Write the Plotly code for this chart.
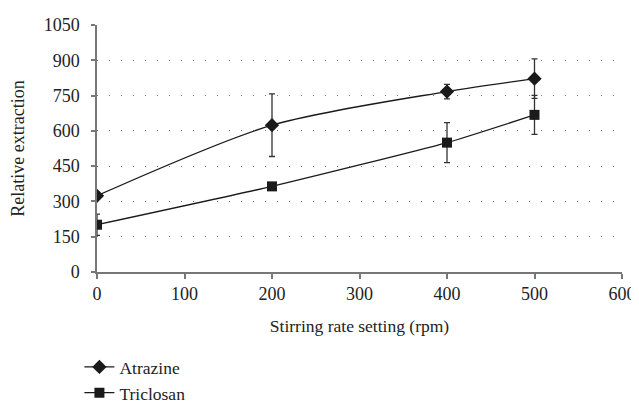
import plotly.graph_objects as go

rpm = [0, 200, 400, 500]
atrazine = [324, 624, 767, 822]
atrazine_err = [15, 133, 31, 84]
triclosan = [201, 364, 550, 668]
triclosan_err = [45, 15, 85, 83]

x_ticks = [0, 100, 200, 300, 400, 500, 600]
y_ticks = [0, 150, 300, 450, 600, 750, 900, 1050]

font = "Liberation Serif"
fig = go.Figure()
fig.add_trace(go.Scatter(
    x=rpm, y=atrazine, name="Atrazine", mode="lines+markers",
    line=dict(color="#1a1a1a", width=1.3, shape="spline", smoothing=0.8),
    marker=dict(symbol="diamond", size=11, color="#1a1a1a"),
    error_y=dict(type="data", array=atrazine_err, visible=True, color="#333333", thickness=1.3, width=3),
))
fig.add_trace(go.Scatter(
    x=rpm, y=triclosan, name="Triclosan", mode="lines+markers",
    line=dict(color="#1a1a1a", width=1.3, shape="spline", smoothing=0.5),
    marker=dict(symbol="square", size=10, color="#1a1a1a"),
    error_y=dict(type="data", array=triclosan_err, visible=True, color="#333333", thickness=1.3, width=3),
))

fig.update_layout(
    width=631, height=395,
    margin=dict(l=89, r=17, t=17, b=131, autoexpand=False),
    paper_bgcolor="white", plot_bgcolor="white",
    font=dict(family=font, size=18, color="#222222"),
    showlegend=True,
    legend=dict(x=-0.0335, xanchor="left", y=-0.312, yanchor="top",
                font=dict(family=font, size=17.5, color="#222222"),
                tracegroupgap=0, itemwidth=30, bgcolor="rgba(0,0,0,0)"),
)
fig.update_xaxes(
    range=[0, 600], tickvals=x_ticks, ticktext=[str(v) for v in x_ticks],
    showline=True, linecolor="#777777", linewidth=1.5,
    ticks="outside", ticklen=5, tickcolor="#777777", tickwidth=1.5,
    showgrid=False, zeroline=False, automargin=False,
    title=dict(text="Stirring rate setting (rpm)", font=dict(family=font, size=17.5), standoff=16),
)
fig.update_yaxes(
    range=[0, 1050], tickvals=y_ticks, ticktext=[str(v) for v in y_ticks],
    showline=True, linecolor="#777777", linewidth=1.5,
    ticks="outside", ticklen=4, tickcolor="#777777", tickwidth=1.5,
    ticklabelstandoff=8,
    showgrid=True, gridcolor="#777777", gridwidth=1, griddash="1px,11px",
    zeroline=False, automargin=False,
    title=dict(text="Relative extraction", font=dict(family=font, size=18), standoff=22),
)

fig.write_html("out.html")
